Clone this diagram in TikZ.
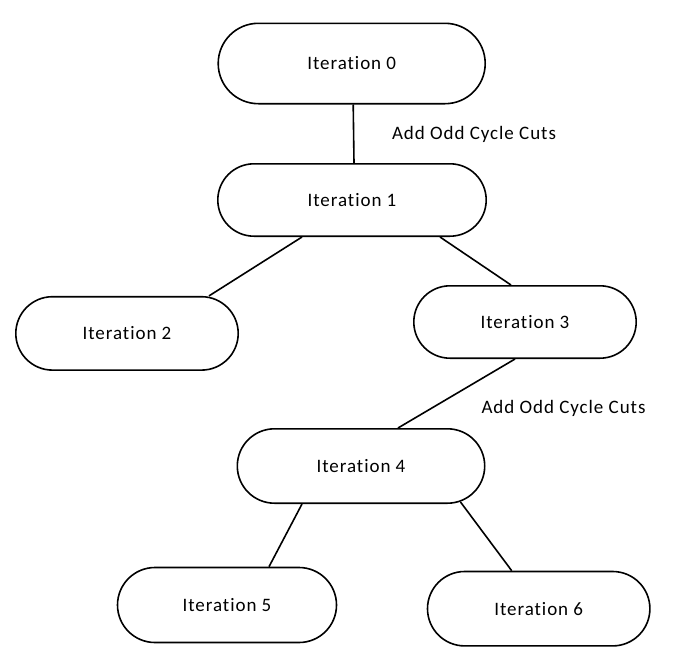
\documentclass[tikz,border=0pt]{standalone}
\usepackage{fontspec}
\setmainfont{Carlito}
\newfontfamily\diafont[LetterSpace=5,Ligatures={NoCommon},RawFeature={-liga;-clig}]{Carlito}
\usetikzlibrary{shapes.misc,calc}
\begin{document}
\begin{tikzpicture}[x=1pt,y=-1pt,
  iter/.style={rounded rectangle, draw, line width=1.6pt, inner sep=0pt,
    font=\diafont\fontsize{19}{22}\selectfont},
  conn/.style={line width=1.6pt},
  lbl/.style={inner sep=0pt, font=\diafont\fontsize{19}{22}\selectfont}]
\useasboundingbox (0,0) rectangle (698,656);
\fill[white] (0,0) rectangle (698,656);

\node[iter, minimum width=267pt, minimum height=80.4pt] (it0) at (351.7,63.5) {Iteration 0};
\node[iter, minimum width=268.4pt, minimum height=72.4pt] (it1) at (352,200) {Iteration 1};
\node[iter, minimum width=222.4pt, minimum height=73.4pt] (it2) at (127,333.4) {Iteration 2};
\node[iter, minimum width=222.4pt, minimum height=72.4pt] (it3) at (525,322) {Iteration 3};
\node[iter, minimum width=247.4pt, minimum height=74.4pt] (it4) at (361,466) {Iteration 4};
\node[iter, minimum width=219pt, minimum height=75pt] (it5) at (227,605) {Iteration 5};
\node[iter, minimum width=222.4pt, minimum height=74.4pt] (it6) at (538.7,608.7) {Iteration 6};

\node[lbl] (l1) at (474,134) {Add Odd Cycle Cuts};
\node[lbl] (l2) at (563.5,408) {Add Odd Cycle Cuts};

\draw[conn] ($(it0.south)+(1.5,0)$) -- ($(it1.north)+(2,0)$);
\draw[conn] ($(it1.south)+(-50,0)$) -- ($(it2.north)+(82,0)$);
\draw[conn] ($(it1.south)+(88,0)$) -- ($(it3.north)+(-14,0)$);
\draw[conn] ($(it3.south)+(-10,0)$) -- ($(it4.north)+(37,0)$);
\draw[conn] ($(it4.south)+(-59,0)$) -- ($(it5.north)+(42,0)$);
\draw[conn] ($(it4.south)+(99.5,-2)$) -- ($(it6.north)+(-27,0)$);
\end{tikzpicture}
\end{document}
